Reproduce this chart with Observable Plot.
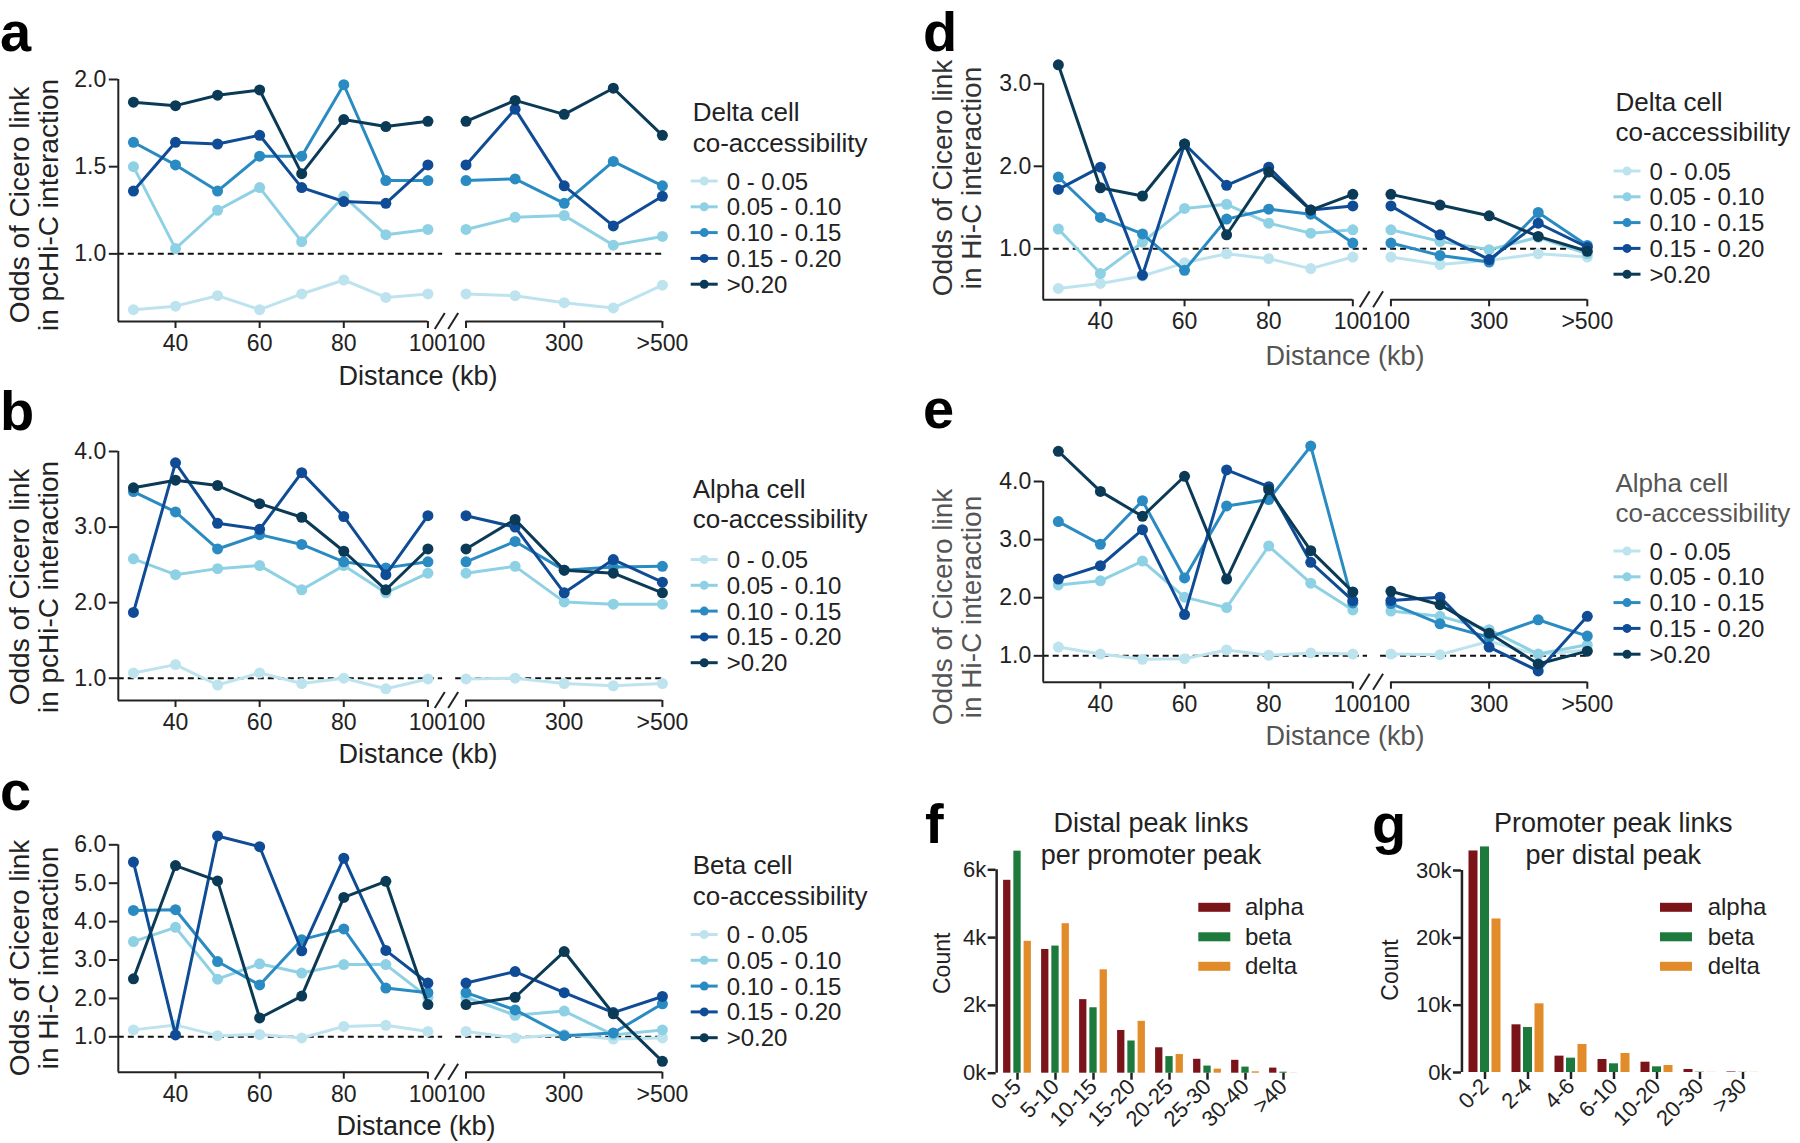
<!DOCTYPE html>
<html>
<head>
<meta charset="utf-8">
<script src="https://cdn.jsdelivr.net/npm/d3@7"></script>
<script src="https://cdn.jsdelivr.net/npm/@observablehq/plot@0.6"></script>
<style>
html, body { margin: 0; padding: 0; background: #fff; }
#fig { position: relative; width: 1800px; height: 1143px; overflow: hidden; background: #fff; }
#fig svg { position: absolute; left: 0; top: 0; }
</style>
</head>
<body>
<div id="fig"></div>
<script>
// ---------------- DATA ----------------
const distLeft = [30, 40, 50, 60, 70, 80, 90, 100];
const distRight = ["100", "200", "300", "400", ">500"];
const bins = ["0 - 0.05", "0.05 - 0.10", "0.10 - 0.15", "0.15 - 0.20", ">0.20"];
const binColors = ["#bde4ee", "#8fd1e4", "#2a8bc3", "#0f4c95", "#0b3a56"];

// panel a: Delta cell, pcHi-C (8 left values + 5 right values)
const a_0_005  = [0.68, 0.70, 0.76, 0.68, 0.77, 0.85, 0.75, 0.77,  0.77, 0.76, 0.72, 0.69, 0.82];
const a_005_010 = [1.50, 1.03, 1.25, 1.38, 1.07, 1.33, 1.11, 1.14,  1.14, 1.21, 1.22, 1.05, 1.10];
const a_010_015 = [1.64, 1.51, 1.36, 1.56, 1.56, 1.97, 1.42, 1.42,  1.42, 1.43, 1.29, 1.53, 1.39];
const a_015_020 = [1.36, 1.64, 1.63, 1.68, 1.38, 1.30, 1.29, 1.51,  1.51, 1.83, 1.39, 1.16, 1.33];
const a_gt020   = [1.87, 1.85, 1.91, 1.94, 1.46, 1.77, 1.73, 1.76,  1.76, 1.88, 1.80, 1.95, 1.68];

// panel b: Alpha cell, pcHi-C
const b_0_005  = [1.07, 1.18, 0.91, 1.07, 0.93, 1.00, 0.86, 0.99,  0.99, 1.00, 0.93, 0.90, 0.93];
const b_005_010 = [2.58, 2.37, 2.45, 2.49, 2.17, 2.49, 2.13, 2.39,  2.39, 2.48, 2.01, 1.98, 1.98];
const b_010_015 = [3.47, 3.20, 2.71, 2.90, 2.77, 2.54, 2.46, 2.54,  2.54, 2.81, 2.43, 2.47, 2.48];
const b_015_020 = [1.87, 3.85, 3.05, 2.97, 3.72, 3.14, 2.37, 3.15,  3.15, 3.00, 2.13, 2.57, 2.27];
const b_gt020   = [3.52, 3.62, 3.55, 3.31, 3.13, 2.68, 2.17, 2.71,  2.71, 3.10, 2.43, 2.39, 2.13];

// panel c: Beta cell, Hi-C
const c_0_005  = [1.18, 1.31, 1.03, 1.06, 0.97, 1.27, 1.30, 1.14,  1.14, 0.97, 1.06, 0.94, 0.97];
const c_005_010 = [3.48, 3.85, 2.50, 2.90, 2.66, 2.88, 2.88, 2.03,  2.03, 1.56, 1.67, 1.05, 1.18];
const c_010_015 = [4.29, 4.31, 2.96, 2.35, 3.53, 3.81, 2.27, 2.15,  2.15, 1.70, 1.03, 1.10, 1.86];
const c_015_020 = [5.55, 1.05, 6.23, 5.95, 3.24, 5.65, 3.25, 2.40,  2.40, 2.70, 2.15, 1.63, 2.05];
const c_gt020   = [2.51, 5.46, 5.06, 1.49, 2.06, 4.63, 5.05, 1.84,  1.84, 2.03, 3.22, 1.60, 0.36];

// panel d: Delta cell, Hi-C
const d_0_005  = [0.52, 0.58, 0.67, 0.83, 0.94, 0.88, 0.76, 0.90,  0.90, 0.81, 0.86, 0.94, 0.90];
const d_005_010 = [1.24, 0.70, 1.08, 1.49, 1.54, 1.31, 1.19, 1.23,  1.23, 1.09, 0.99, 1.14, 0.94];
const d_010_015 = [1.87, 1.38, 1.18, 0.74, 1.36, 1.48, 1.42, 1.07,  1.07, 0.92, 0.84, 1.44, 1.04];
const d_015_020 = [1.72, 1.99, 0.68, 2.27, 1.77, 1.99, 1.47, 1.52,  1.52, 1.17, 0.87, 1.31, 1.02];
const d_gt020   = [3.23, 1.74, 1.64, 2.27, 1.17, 1.93, 1.47, 1.66,  1.66, 1.53, 1.40, 1.15, 0.97];

// panel e: Alpha cell, Hi-C
const e_0_005  = [1.15, 1.03, 0.94, 0.95, 1.10, 1.01, 1.05, 1.03,  1.03, 1.02, 1.25, 1.02, 1.10];
const e_005_010 = [2.22, 2.29, 2.63, 2.01, 1.83, 2.89, 2.25, 1.79,  1.77, 1.68, 1.45, 1.03, 1.19];
const e_010_015 = [3.31, 2.92, 3.67, 2.34, 3.58, 3.69, 4.61, 1.91,  1.90, 1.55, 1.32, 1.62, 1.34];
const e_015_020 = [2.32, 2.55, 3.17, 1.71, 4.20, 3.91, 2.61, 1.95,  1.95, 2.01, 1.15, 0.74, 1.68];
const e_gt020   = [4.52, 3.83, 3.40, 4.09, 2.32, 3.86, 2.81, 2.10,  2.11, 1.88, 1.39, 0.86, 1.08];

// panel f: distal peak links per promoter peak
const fBins  = ["0-5", "5-10", "10-15", "15-20", "20-25", "25-30", "30-40", ">40"];
const fAlpha = [5690, 3650, 2170, 1260, 750, 410, 380, 150];
const fBeta  = [6550, 3750, 1930, 950, 490, 210, 180, 30];
const fDelta = [3890, 4410, 3050, 1530, 550, 120, 40, 5];

// panel g: promoter peak links per distal peak
const gBins  = ["0-2", "2-4", "4-6", "6-10", "10-20", "20-30", ">30"];
const gAlpha = [32900, 7080, 2430, 1930, 1530, 450, 80];
const gBeta  = [33500, 6680, 2130, 1290, 840, 50, 30];
const gDelta = [22800, 10200, 4160, 2820, 1040, 20, 20];

const cellTypes = ["alpha", "beta", "delta"];
const cellColors = ["#7a1418", "#1b7a3c", "#e28b2b"];

// ---------------- LAYOUT ----------------
const W = 1800, H = 1143;
const FONT = '"Liberation Sans", Arial, Helvetica, sans-serif';
const X_MIN = 26.4, RIGHT_GAP = 9.06, RIGHT_STEP = 11.67;
const posOf = k => k < distLeft.length ? distLeft[k] : 100 + RIGHT_GAP + (k - distLeft.length) * RIGHT_STEP;
const X_MAX = posOf(distLeft.length + distRight.length - 1);
const DASH_LEFT_END = 103.5, DASH_RIGHT_START = 106.6;
const xTickPos = [40, 60, 80, 100, posOf(8), posOf(10), posOf(12)];
const xTickText = new Map(xTickPos.map((p, i) => [p, ["40", "60", "80", "100", distRight[0], distRight[2], distRight[4]][i]]));

const fig = d3.select("#fig").node();

function baseStyle(size) {
  return {position: "absolute", left: "0px", top: "0px", background: "transparent",
          overflow: "visible", fontFamily: FONT, fontSize: size, color: "#222"};
}

function linePanel(series, fr, yDomain, yTicks) {
  const [ymin, ymax] = yDomain;
  const marks = [
    Plot.ruleY([1], {x1: X_MIN, x2: DASH_LEFT_END, stroke: "#111", strokeWidth: 2, strokeDasharray: "6,4"}),
    Plot.ruleY([1], {x1: DASH_RIGHT_START, x2: X_MAX, stroke: "#111", strokeWidth: 2, strokeDasharray: "6,4"})
  ];
  series.forEach((vals, b) => {
    const rows = vals.map((v, k) => ({pos: posOf(k), v, seg: k < distLeft.length ? "left" : "right", bin: bins[b]}));
    marks.push(Plot.line(rows, {x: "pos", y: "v", z: "seg", stroke: binColors[b], strokeWidth: 3}));
    marks.push(Plot.dot(rows, {x: "pos", y: "v", r: 5.5, fill: binColors[b]}));
  });
  marks.push(
    Plot.ruleX([X_MIN], {y1: ymin, y2: ymax, stroke: "#222", strokeWidth: 2}),
    Plot.ruleY([ymin], {x1: X_MIN, x2: 100, stroke: "#222", strokeWidth: 2}),
    Plot.ruleY([ymin], {x1: posOf(8), x2: X_MAX, stroke: "#222", strokeWidth: 2}),
    Plot.axisY({ticks: yTicks, tickFormat: d3.format(".1f"), tickSize: 9, tickPadding: 3, strokeWidth: 2, stroke: "#222", label: null}),
    Plot.axisX({ticks: xTickPos, tickFormat: d => xTickText.get(d), tickSize: 7, tickPadding: 6, strokeWidth: 2, stroke: "#222", label: null})
  );
  const chart = Plot.plot({
    width: W, height: H,
    marginLeft: fr.left, marginRight: W - fr.right, marginTop: fr.top, marginBottom: H - fr.bottom,
    x: {domain: [X_MIN, X_MAX]},
    y: {domain: yDomain},
    style: baseStyle("23px"),
    marks
  });
  // axis break marks, placed through the chart's own scales
  const sx = chart.scale("x"), sy = chart.scale("y");
  const xm = (sx.apply(100) + sx.apply(posOf(8))) / 2;
  const yb = sy.apply(ymin);
  const g = d3.select(chart).append("g").attr("stroke", "#222").attr("stroke-width", 2);
  [-6.7, 6.7].forEach(o => {
    g.append("line").attr("x1", xm + o - 5).attr("y1", yb + 8).attr("x2", xm + o + 5).attr("y2", yb - 8);
  });
  fig.appendChild(chart);
}

linePanel([a_0_005, a_005_010, a_010_015, a_015_020, a_gt020], {left: 117.8, right: 661.9, top: 79, bottom: 321}, [0.612, 2.0], [1.0, 1.5, 2.0]);
linePanel([b_0_005, b_005_010, b_010_015, b_015_020, b_gt020], {left: 117.8, right: 661.9, top: 451, bottom: 700}, [0.705, 4.0], [1, 2, 3, 4]);
linePanel([c_0_005, c_005_010, c_010_015, c_015_020, c_gt020], {left: 117.8, right: 661.9, top: 844.3, bottom: 1071.7}, [0.078, 6.0], [1, 2, 3, 4, 5, 6]);
linePanel([d_0_005, d_005_010, d_010_015, d_015_020, d_gt020], {left: 1042.7, right: 1586.8, top: 83.3, bottom: 299.3}, [0.382, 3.0], [1, 2, 3]);
linePanel([e_0_005, e_005_010, e_010_015, e_015_020, e_gt020], {left: 1042.7, right: 1586.8, top: 481, bottom: 681.7}, [0.546, 4.0], [1, 2, 3, 4]);

function barPanel(cats, seriesVals, fr, yMax, yTicks, barW, barOff) {
  const step = (fr.right - fr.left) / cats.length;
  const marks = seriesVals.map((vals, j) => {
    const o = (j - 1) * barOff;
    const rows = vals.map((v, i) => ({cat: cats[i], v, cell: cellTypes[j]}));
    return Plot.barY(rows, {x: "cat", y: "v", fill: cellColors[j],
      insetLeft: step / 2 + o - barW / 2, insetRight: step / 2 - o - barW / 2});
  });
  marks.push(
    Plot.axisY({ticks: yTicks, tickFormat: d => d / 1000 + "k", tickSize: 8, tickPadding: 2, strokeWidth: 2.5, stroke: "#222", label: null}),
    Plot.axisX({tickSize: 7, tickPadding: 3, tickRotate: -45, strokeWidth: 2.5, stroke: "#222", label: null})
  );
  const chart = Plot.plot({
    width: W, height: H,
    marginLeft: fr.left, marginRight: W - fr.right, marginTop: fr.top, marginBottom: H - fr.bottom,
    x: {type: "band", domain: cats, padding: 0},
    y: {domain: [0, yMax]},
    style: baseStyle("22px"),
    marks
  });
  const sy = chart.scale("y");
  d3.select(chart).append("line")
    .attr("x1", fr.left + 1).attr("x2", fr.left + 1)
    .attr("y1", sy.apply(0)).attr("y2", sy.apply(yMax))
    .attr("stroke", "#222").attr("stroke-width", 2.5);
  fig.appendChild(chart);
}

barPanel(fBins, [fAlpha, fBeta, fDelta], {left: 995.65, right: 1305.25, top: 869.3, bottom: 1072.7}, 6000, [0, 2000, 4000, 6000], 8, 10.25);
barPanel(gBins, [gAlpha, gBeta, gDelta], {left: 1460.95, right: 1765.45, top: 870, bottom: 1072}, 30000, [0, 10000, 20000, 30000], 9.5, 11.5);

// ---------------- TEXT OVERLAY ----------------
const ov = d3.select("#fig").append("svg").attr("width", W).attr("height", H)
  .style("font-family", FONT);

function txt(s, x, y, o = {}) {
  const t = ov.append("text").attr("x", x).attr("y", y)
    .attr("font-size", o.size || 23).attr("font-weight", o.weight || 400)
    .attr("fill", o.color || "#222").attr("text-anchor", o.anchor || "start").text(s);
  if (o.rotate) t.attr("transform", `rotate(${o.rotate},${x},${y})`);
  return t;
}

// panel letters
[["a", 0, 51], ["b", 0, 430], ["c", 0, 810], ["d", 923, 51], ["e", 923, 428], ["f", 925, 843], ["g", 1372, 843]]
  .forEach(([s, x, y]) => txt(s, x, y, {size: 56, weight: 700, color: "#000"}));

// y titles
const yTitles = [
  {x: 28.5, y: 205, l2: "in pcHi-C interaction", color: "#222"},
  {x: 28.5, y: 587, l2: "in pcHi-C interaction", color: "#222"},
  {x: 28.5, y: 958, l2: "in Hi-C interaction", color: "#222"},
  {x: 951.7, y: 178, l2: "in Hi-C interaction", color: "#333"},
  {x: 951.7, y: 607, l2: "in Hi-C interaction", color: "#555"}
];
yTitles.forEach(t => {
  txt("Odds of Cicero link", t.x, t.y, {size: 28, anchor: "middle", rotate: -90, color: t.color});
  txt(t.l2, t.x + 29.5, t.y, {size: 28, anchor: "middle", rotate: -90, color: t.color});
});

// x titles
[[418, 385, "#222"], [418, 763, "#222"], [416, 1135, "#222"], [1345, 365, "#555"], [1345, 745, "#555"]]
  .forEach(([x, y, c]) => txt("Distance (kb)", x, y, {size: 27, anchor: "middle", color: c}));

// line legends
const legends = [
  {x0: 690.7, title: "Delta cell", tb: 121, items: 181, tc: "#222"},
  {x0: 690.7, title: "Alpha cell", tb: 497.5, items: 559.5, tc: "#222"},
  {x0: 690.7, title: "Beta cell", tb: 874, items: 934.5, tc: "#222"},
  {x0: 1613.5, title: "Delta cell", tb: 110.5, items: 171, tc: "#222"},
  {x0: 1613.5, title: "Alpha cell", tb: 491.7, items: 551, tc: "#555"}
];
legends.forEach(L => {
  txt(L.title, L.x0 + 2, L.tb, {size: 26, color: L.tc});
  txt("co-accessibility", L.x0 + 2, L.tb + 30.5, {size: 26, color: L.tc});
  bins.forEach((b, i) => {
    const cy = L.items + i * 25.8;
    ov.append("line").attr("x1", L.x0).attr("x2", L.x0 + 27).attr("y1", cy).attr("y2", cy)
      .attr("stroke", binColors[i]).attr("stroke-width", 3);
    ov.append("circle").attr("cx", L.x0 + 13.5).attr("cy", cy).attr("r", 4.5).attr("fill", binColors[i]);
    txt(b, L.x0 + 36, cy + 8.5, {size: 24, color: "#222"});
  });
});

// bar panel titles, y labels and legends
[[1151, ["Distal peak links", "per promoter peak"]], [1613.3, ["Promoter peak links", "per distal peak"]]]
  .forEach(([x, lines]) => {
    txt(lines[0], x, 832.3, {size: 27, anchor: "middle"});
    txt(lines[1], x, 864, {size: 27, anchor: "middle"});
  });
txt("Count", 950, 963.3, {size: 23, anchor: "middle", rotate: -90});
txt("Count", 1398.3, 970, {size: 23, anchor: "middle", rotate: -90});
[[1198.3, 1245], [1660, 1707.7]].forEach(([sx, tx]) => {
  cellTypes.forEach((c, i) => {
    const cy = 907.3 + i * 29.5;
    ov.append("rect").attr("x", sx).attr("y", cy - 4.5).attr("width", 32).attr("height", 9).attr("fill", cellColors[i]);
    txt(c, tx, cy + 8, {size: 24});
  });
});
</script>
</body>
</html>
